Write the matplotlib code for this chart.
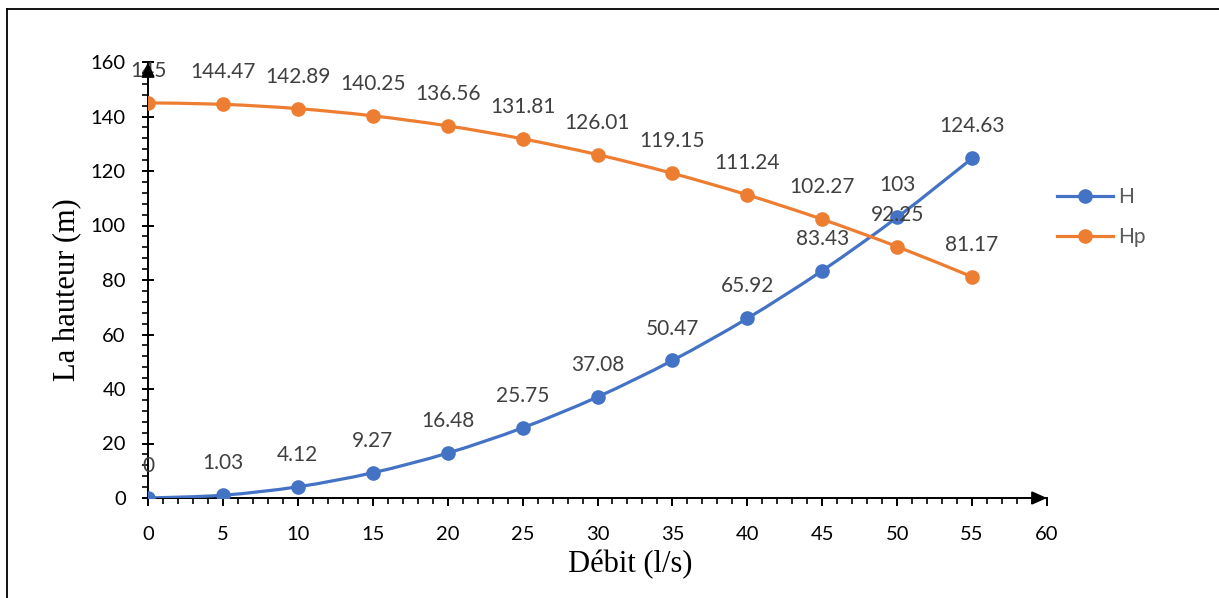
import numpy as np
import matplotlib
matplotlib.use("Agg")
import matplotlib.pyplot as plt
from matplotlib.path import Path
from matplotlib.patches import PathPatch
from matplotlib.lines import Line2D
from matplotlib.ticker import MultipleLocator

# --- data ---
debit = [0, 5, 10, 15, 20, 25, 30, 35, 40, 45, 50, 55]
H = [0, 1.03, 4.12, 9.27, 16.48, 25.75, 37.08, 50.47, 65.92, 83.43, 103, 124.63]
Hp = [145, 144.47, 142.89, 140.25, 136.56, 131.81, 126.01, 119.15, 111.24, 102.27, 92.25, 81.17]
H_labels = ["0", "1.03", "4.12", "9.27", "16.48", "25.75", "37.08", "50.47",
            "65.92", "83.43", "103", "124.63"]
Hp_labels = ["145", "144.47", "142.89", "140.25", "136.56", "131.81", "126.01",
             "119.15", "111.24", "102.27", "92.25", "81.17"]

BLUE = "#4472C4"
ORANGE = "#ED7D31"
TICK_FONT = "Lato"
LABEL_FONT = "Liberation Serif"


def smooth_path(x, y):
    """Bezier path through the points (Excel-style smoothed line)."""
    pts = np.column_stack([x, y]).astype(float)
    n = len(pts)
    verts = [pts[0]]
    codes = [Path.MOVETO]
    for i in range(n - 1):
        p0 = pts[i - 1] if i > 0 else pts[i]
        p1, p2 = pts[i], pts[i + 1]
        p3 = pts[i + 2] if i + 2 < n else pts[i + 1]
        c1 = p1 + (p2 - p0) / 6.0
        c2 = p2 - (p3 - p1) / 6.0
        verts += [c1, c2, p2]
        codes += [Path.CURVE4] * 3
    return Path(verts, codes)


fig = plt.figure(figsize=(12.19, 5.98), dpi=100)
ax = fig.add_axes([148 / 1219, 100 / 598, (1047 - 148) / 1219, (498 - 62) / 598])

series = [(H, H_labels, BLUE, "H"), (Hp, Hp_labels, ORANGE, "Hp")]
for vals, labels, col, name in series:
    ax.add_patch(PathPatch(smooth_path(debit, vals), facecolor="none",
                           edgecolor=col, lw=2.3, capstyle="round", zorder=3))
    ax.plot(debit, vals, ls="none", marker="o", ms=9.5, color=col, zorder=4)
    for xv, yv, txt in zip(debit, vals, labels):
        ax.annotate(txt, (xv, yv), xytext=(0, 23), textcoords="offset points",
                    ha="center", va="center", fontsize=15, color="#404040",
                    family=TICK_FONT, zorder=5)

# legend handles
handles = [Line2D([], [], color=BLUE, lw=2.3, marker="o", ms=9.5),
           Line2D([], [], color=ORANGE, lw=2.3, marker="o", ms=9.5)]
fig.legend(handles, ["H", "Hp"], loc="center left",
           bbox_to_anchor=(1038 / 1219, 1 - 217 / 598), frameon=False,
           prop={"family": TICK_FONT, "size": 15}, labelcolor="#595959",
           handlelength=2.7, handletextpad=0.25, labelspacing=0.95)

ax.set_xlim(0, 60)
ax.set_ylim(0, 160)
ax.xaxis.set_major_locator(MultipleLocator(5))
ax.xaxis.set_minor_locator(MultipleLocator(1))
ax.yaxis.set_major_locator(MultipleLocator(20))
ax.yaxis.set_minor_locator(MultipleLocator(4))

for s in ["top", "right"]:
    ax.spines[s].set_visible(False)
for s in ["left", "bottom"]:
    ax.spines[s].set_linewidth(1.4)

ax.tick_params(axis="x", which="major", direction="out", length=6, width=1.4,
               pad=14, labelsize=14.5)
ax.tick_params(axis="x", which="minor", direction="out", length=4, width=1.2)
ax.tick_params(axis="y", which="major", direction="inout", length=8, width=1.4,
               pad=12, labelsize=14.5)
ax.tick_params(axis="y", which="minor", direction="out", length=4, width=1.2)
for lab in ax.get_xticklabels() + ax.get_yticklabels():
    lab.set_family(TICK_FONT)

# arrow heads at the axis ends
ax.annotate("", xy=(60, 0), xytext=(58.9, 0),
            arrowprops=dict(arrowstyle="-|>,head_length=0.9,head_width=0.4",
                            color="black", lw=1.4, shrinkA=0, shrinkB=0),
            annotation_clip=False, zorder=6)
ax.annotate("", xy=(0, 160), xytext=(0, 154),
            arrowprops=dict(arrowstyle="-|>,head_length=0.9,head_width=0.4",
                            color="black", lw=1.4, shrinkA=0, shrinkB=0),
            annotation_clip=False, zorder=6)

ax.set_xlabel("Débit (l/s)", family=LABEL_FONT, fontsize=22)
ax.set_ylabel("La hauteur (m)", family=LABEL_FONT, fontsize=22)
ax.xaxis.set_label_coords((630 - 148) / (1047 - 148), -(565 - 498) / 436)
ax.yaxis.set_label_coords(-(148 - 67) / 899, (498 - 290) / 436)
ax.xaxis.label.set_va("center")
ax.yaxis.label.set_va("center")

# outer frame
fig.add_artist(Line2D([7 / 1219, 7 / 1219], [0, 1 - 9 / 598], color="black",
                      lw=1.3, transform=fig.transFigure))
fig.add_artist(Line2D([7 / 1219, 1], [1 - 9 / 598, 1 - 9 / 598], color="black",
                      lw=1.3, transform=fig.transFigure))

fig.savefig("out.png", dpi=100)
